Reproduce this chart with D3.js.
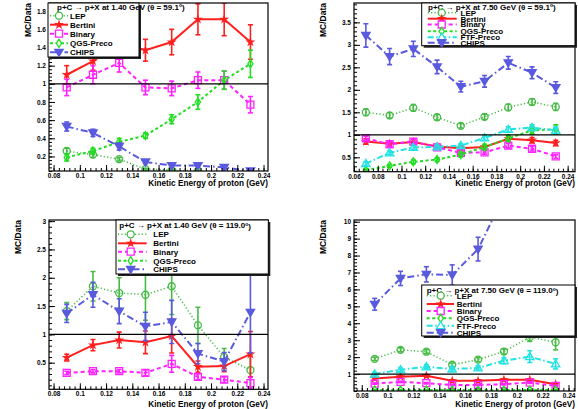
<!DOCTYPE html>
<html><head><meta charset="utf-8">
<script src="https://cdn.jsdelivr.net/npm/d3@7/dist/d3.min.js"></script>
<style>
body{margin:0;background:#fff}
svg{display:block}
text{font-family:"Liberation Sans",Arial,Helvetica,sans-serif;font-weight:bold;fill:#000}
</style>
</head><body>
<svg id="c" width="578" height="409"></svg>
<script>
// ---------- data ----------
const xLow  = [0.09,0.11,0.13,0.15,0.17,0.19,0.21,0.23];
const xHigh = [0.07,0.09,0.11,0.13,0.15,0.17,0.19,0.21,0.23];

const xTicksLow  = [0.08,0.10,0.12,0.14,0.16,0.18,0.20,0.22,0.24];
const xTicksHigh = [0.06,0.08,0.10,0.12,0.14,0.16,0.18,0.20,0.22,0.24];
const yTicks1 = [0.2,0.4,0.6,0.8,1.0,1.2,1.4,1.6,1.8];
const yTicks2 = [0.5,1.0,1.5,2.0,2.5,3.0,3.5];
const yTicks3 = [0.5,1.0,1.5,2.0,2.5,3.0];
const yTicks4 = [1,2,3,4,5,6,7,8,9,10];

// panel 1 : 1.40 GeV, 59.1 deg
const p1LEP      = [0.26,0.22,0.17,0.06,0.05,0.04,null,null];
const p1LEPErr   = [0.03,0.03,0.02,0.01,0.01,0.01,0,0];
const p1Bertini  = [1.10,1.25,1.45,1.37,1.46,1.71,1.71,1.46];
const p1BertErr  = [0.10,0.10,0.12,0.12,0.14,0.17,0.18,0.19];
const p1Binary   = [0.96,1.10,1.23,0.96,0.95,1.04,1.04,0.77];
const p1BinErr   = [0.09,0.10,0.10,0.08,0.08,0.09,0.10,0.09];
const p1QGS      = [0.19,0.26,0.36,0.43,0.61,0.80,1.04,1.22];
const p1QGSErr   = [0.04,0.03,0.04,0.03,0.05,0.08,0.10,0.15];
const p1CHIPS    = [0.53,0.46,0.31,0.14,0.10,0.10,0.08,0.04];
const p1CHIPSErr = [0.05,0.04,0.04,0.02,0.02,0.02,0.02,0.01];

// panel 2 : 7.50 GeV, 59.1 deg
const p2LEP      = [1.50,1.43,1.60,1.39,1.20,1.40,1.61,1.73,1.62];
const p2LEPErr   = [0.07,0.06,0.07,0.06,0.05,0.06,0.07,0.07,0.08];
const p2Bertini  = [0.85,0.80,0.84,0.74,0.70,0.73,0.91,0.88,0.82];
const p2BertErr  = [0.06,0.06,0.06,0.05,0.05,0.05,0.06,0.06,0.06];
const p2Binary   = [0.92,0.79,0.85,0.72,0.60,0.61,0.76,0.69,0.52];
const p2BinErr   = [0.05,0.05,0.05,0.04,0.04,0.04,0.05,0.05,0.04];
const p2QGS      = [0.21,0.31,0.40,0.45,0.56,0.73,0.92,1.10,1.12];
const p2QGSErr   = [0.03,0.03,0.04,0.04,0.05,0.06,0.07,0.08,0.10];
const p2FTF      = [0.36,0.60,0.72,0.73,0.76,0.93,1.12,1.16,1.10];
const p2FTFErr   = [0.04,0.04,0.04,0.04,0.04,0.05,0.06,0.06,0.07];
const p2CHIPS    = [3.21,2.74,2.91,2.51,2.07,2.19,2.60,2.38,2.05];
const p2CHIPSErr = [0.26,0.18,0.17,0.15,0.12,0.13,0.14,0.13,0.13];

// panel 3 : 1.40 GeV, 119.0 deg
const p3LEP      = [1.41,1.85,1.73,1.70,1.85,1.16,0.60,0.37];
const p3LEPErr   = [0.15,0.26,0.27,0.45,0.50,0.32,0.15,0.30];
const p3Bertini  = [0.59,0.81,0.90,0.86,0.97,0.43,0.44,0.65];
const p3BertErr  = [0.06,0.10,0.14,0.20,0.30,0.10,0.10,0.40];
const p3Binary   = [0.32,0.35,0.35,0.32,0.48,0.25,0.20,0.14];
const p3BinErr   = [0.03,0.03,0.03,0.05,0.15,0.05,0.05,0.10];
const p3QGS      = [];
const p3QGSErr   = [];
const p3CHIPS    = [1.37,1.70,1.41,1.14,1.22,0.66,0.52,1.39];
const p3CHIPSErr = [0.16,0.22,0.22,0.25,0.38,0.18,0.16,0.72];

// panel 4 : 7.50 GeV, 119.0 deg
const p4LEP      = [1.90,2.43,2.32,1.55,1.85,2.33,3.18,2.88];
const p4LEPErr   = [0.10,0.12,0.12,0.10,0.12,0.15,0.25,0.45];
const p4Bertini  = [0.74,0.84,0.90,0.60,0.60,0.66,0.66,0.40];
const p4BertErr  = [0.05,0.05,0.06,0.05,0.05,0.05,0.06,0.05];
const p4Binary   = [0.44,0.54,0.46,0.36,0.36,0.40,0.50,0.30];
const p4BinErr   = [0.04,0.04,0.04,0.04,0.04,0.04,0.05,0.04];
const p4QGS      = [0.06,0.06,0.06,0.06,0.06,0.06,0.06,0.06];
const p4QGSErr   = [0.02,0.02,0.02,0.02,0.02,0.02,0.02,0.02];
const p4FTF      = [1.00,1.26,1.43,1.30,1.36,1.79,2.03,1.60];
const p4FTFErr   = [0.10,0.10,0.12,0.12,0.12,0.18,0.35,0.30];
const p4CHIPS    = [5.12,6.65,6.89,6.85,8.38,11.5,12.5,12.0];
const p4CHIPSErr = [0.35,0.42,0.45,0.60,0.70,1.00,1.00,1.00];

// ---------- styles ----------
const styles = {
  "LEP":       {color:"#46bb46", dash:"1.2,2.2",      width:1.5, marker:"circle",  filled:false},
  "Bertini":   {color:"#ff1f1f", dash:null,           width:2,   marker:"star",    filled:true},
  "Binary":    {color:"#ff22ff", dash:"4,3",          width:2,   marker:"square",  filled:false},
  "QGS-Preco": {color:"#22dd22", dash:"3,2.5",        width:2,   marker:"diamond", filled:false},
  "FTF-Preco": {color:"#22e2e2", dash:"6,2.5,1.5,2.5",width:2,   marker:"triUp",   filled:false},
  "CHIPS":     {color:"#5a5ade", dash:"7,3,1.5,3",    width:2,   marker:"triDown", filled:true}
};

function markerPath(type){
  switch(type){
    case "circle": { const p=d3.path(); p.arc(0,0,3.5,0,2*Math.PI); p.closePath(); return p.toString(); }
    case "square": return "M-3.5,-3.5H3.5V3.5H-3.5Z";
    case "diamond": return "M0,-4L2.6,0L0,4L-2.6,0Z";
    case "triUp": return "M0,-4.2L4.2,3L-4.2,3Z";
    case "triDown": return "M0,4.2L4.2,-3L-4.2,-3Z";
    case "star": return d3.symbol(d3.symbolStar, 11)();
  }
}

// ---------- panels ----------
const panels = [
  { frame:{x0:49,x1:268,y0:3,y1:171}, xDomain:[0.0765,0.2434], yDomain:[0.04,1.89],
    x:xLow, xTicks:xTicksLow, yTicks:yTicks1, yTitleX:31, xTitleY:186,
    series:[["LEP",p1LEP,p1LEPErr],["Bertini",p1Bertini,p1BertErr],["Binary",p1Binary,p1BinErr],["QGS-Preco",p1QGS,p1QGSErr],["CHIPS",p1CHIPS,p1CHIPSErr]],
    header:["1.40","59.1"],
    legend:{box:[48,3,139,57], hx:57, hy:7, ys:[15.7,24.7,33.7,43.3,52.3], lx:[50,68], mx:59, tx:70} },
  { frame:{x0:354,x1:575,y0:3,y1:171.7}, xDomain:[0.06,0.2462], yDomain:[0.18,3.93],
    x:xHigh, xTicks:xTicksHigh, yTicks:yTicks2, yTitleX:326, xTitleY:186,
    series:[["LEP",p2LEP,p2LEPErr],["Bertini",p2Bertini,p2BertErr],["Binary",p2Binary,p2BinErr],["QGS-Preco",p2QGS,p2QGSErr],["FTF-Preco",p2FTF,p2FTFErr],["CHIPS",p2CHIPS,p2CHIPSErr]],
    header:["7.50","59.1"],
    legend:{box:[421.7,3,575,45.7], hx:428, hy:6.7, ys:[12.7,18.7,24.5,31.3,37.3,42.7], lx:[427.7,456.7], mx:441.7, tx:460.5} },
  { frame:{x0:49,x1:268,y0:220,y1:389.3}, xDomain:[0.0765,0.2434], yDomain:[0.03,3.02],
    x:xLow, xTicks:xTicksLow, yTicks:yTicks3, yTitleX:21, xTitleY:406.5,
    series:[["LEP",p3LEP,p3LEPErr],["Bertini",p3Bertini,p3BertErr],["Binary",p3Binary,p3BinErr],["QGS-Preco",p3QGS,p3QGSErr],["CHIPS",p3CHIPS,p3CHIPSErr]],
    header:["1.40","119.0"],
    legend:{box:[116,220,268.3,274], hx:119.3, hy:225.5, ys:[234.3,243.3,251.7,260.7,269.3], lx:[118,146.7], mx:130.7, tx:153.3} },
  { frame:{x0:354,x1:575,y0:220,y1:391}, xDomain:[0.074,0.245], yDomain:[0,10.1],
    x:xLow, xTicks:xTicksLow, yTicks:yTicks4, yTitleX:326, xTitleY:406.8,
    series:[["LEP",p4LEP,p4LEPErr],["Bertini",p4Bertini,p4BertErr],["Binary",p4Binary,p4BinErr],["QGS-Preco",p4QGS,p4QGSErr],["FTF-Preco",p4FTF,p4FTFErr],["CHIPS",p4CHIPS,p4CHIPSErr]],
    header:["7.50","119.0"],
    legend:{box:[421.7,285,575,336], hx:426.7, hy:290.5, ys:[295.7,304,311,318.3,325.7,332.7], lx:[426.7,454], mx:440.7, tx:456.7} }
];

const svg = d3.select("#c");
const fmt = d => String(+d.toFixed(3));

function minorTicks(majors, domain){
  const step = (majors[1]-majors[0])/5;
  const lo = Math.min(...domain), hi = Math.max(...domain);
  const out = [];
  const start = Math.ceil((lo - majors[0]) / step - 1e-9);
  for (let k = start; ; k++){
    const v = majors[0] + k*step;
    if (v > hi + 1e-9) break;
    if (v >= lo - 1e-9) out.push(+v.toFixed(6));
  }
  return out;
}

panels.forEach((p, pi) => {
  const f = p.frame;
  const x = d3.scaleLinear().domain(p.xDomain).range([f.x0, f.x1]);
  const y = d3.scaleLinear().domain(p.yDomain).range([f.y1, f.y0]);
  const g = svg.append("g");
  const cid = "clip"+pi;
  g.append("clipPath").attr("id",cid).append("rect")
    .attr("x",f.x0).attr("y",f.y0).attr("width",f.x1-f.x0).attr("height",f.y1-f.y0);
  const plot = g.append("g").attr("clip-path",`url(#${cid})`);

  p.series.forEach(([name, vals, errs]) => {
    const st = styles[name];
    const pts = vals.map((v,i)=>({x:p.x[i], y:v, e:errs[i]})).filter(d=>d.y!=null);
    if (!pts.length) return;
    const line = d3.line().x(d=>x(d.x)).y(d=>y(d.y));
    plot.append("path").attr("d",line(pts)).attr("fill","none")
      .attr("stroke",st.color).attr("stroke-width",st.width)
      .attr("stroke-dasharray",st.dash);
    const eb = plot.append("g").attr("stroke",st.color).attr("stroke-width",1.6);
    pts.forEach(d=>{
      const cx = x(d.x), yt = y(d.y+d.e), yb = y(d.y-d.e);
      eb.append("line").attr("x1",cx).attr("x2",cx).attr("y1",yt).attr("y2",yb);
      eb.append("line").attr("x1",cx-2.5).attr("x2",cx+2.5).attr("y1",yt).attr("y2",yt);
      eb.append("line").attr("x1",cx-2.5).attr("x2",cx+2.5).attr("y1",yb).attr("y2",yb);
    });
    plot.append("g").selectAll("path").data(pts).join("path")
      .attr("transform",d=>`translate(${x(d.x)},${y(d.y)})`)
      .attr("d",markerPath(st.marker))
      .attr("fill",st.filled?st.color:"none")
      .attr("stroke",st.color).attr("stroke-width",1.3);
  });

  // reference line at 1
  g.append("line").attr("x1",f.x0).attr("x2",f.x1).attr("y1",y(1)).attr("y2",y(1))
    .attr("stroke","#000").attr("stroke-width",1.3);

  // frame
  g.append("rect").attr("x",f.x0).attr("y",f.y0).attr("width",f.x1-f.x0).attr("height",f.y1-f.y0)
    .attr("fill","none").attr("stroke","#000").attr("stroke-width",1.2);

  // axes (ticks inside)
  const xa = g.append("g").attr("transform",`translate(0,${f.y1})`)
    .call(d3.axisBottom(x).tickValues(p.xTicks.filter(v=>v>=p.xDomain[0]&&v<=p.xDomain[1])).tickFormat(fmt).tickSize(-6).tickPadding(2.5));
  const xm = g.append("g").attr("transform",`translate(0,${f.y1})`)
    .call(d3.axisBottom(x).tickValues(minorTicks(p.xTicks,p.xDomain)).tickFormat("").tickSize(-3));
  const ya = g.append("g").attr("transform",`translate(${f.x0},0)`)
    .call(d3.axisLeft(y).tickValues(p.yTicks.filter(v=>v>=p.yDomain[0]&&v<=p.yDomain[1])).tickFormat(fmt).tickSize(-6).tickPadding(3));
  const ym = g.append("g").attr("transform",`translate(${f.x0},0)`)
    .call(d3.axisLeft(y).tickValues(minorTicks(p.yTicks,p.yDomain)).tickFormat("").tickSize(-3));
  [xa,xm,ya,ym].forEach(a=>{
    a.select(".domain").remove();
    a.selectAll("line").attr("stroke","#000").attr("stroke-width",1);
    a.selectAll("text").attr("font-size",6.5).attr("font-family",null);
  });

  // titles
  g.append("text").attr("x",f.x1).attr("y",p.xTitleY).attr("text-anchor","end")
    .attr("font-size",8.2).text("Kinetic Energy of proton (GeV)");
  g.append("text").attr("transform",`translate(${p.yTitleX},${f.y0})rotate(-90)`)
    .attr("text-anchor","end").attr("font-size",8.5).text("MC/Data");

  // legend
  const L = p.legend, b = L.box;
  const lg = g.append("g");
  lg.append("rect").attr("x",b[0]+2).attr("y",b[1]+2).attr("width",b[2]-b[0]).attr("height",b[3]-b[1]).attr("fill","#222");
  lg.append("rect").attr("x",b[0]).attr("y",b[1]).attr("width",b[2]-b[0]).attr("height",b[3]-b[1])
    .attr("fill","#fff").attr("stroke","#000").attr("stroke-width",1);
  const ht = lg.append("text").attr("x",L.hx).attr("y",L.hy).attr("dy","0.35em").attr("font-size",8);
  ht.append("tspan").text(`p+C \u2192 p+X at ${p.header[0]} GeV (\u03b8 = ${p.header[1]}`);
  ht.append("tspan").attr("font-size",5).attr("dy","-0.5em").text("o");
  ht.append("tspan").attr("dy","0.35em").text(")");
  p.series.forEach(([name], i) => {
    const st = styles[name], yy = L.ys[i];
    lg.append("line").attr("x1",L.lx[0]).attr("x2",L.lx[1]).attr("y1",yy).attr("y2",yy)
      .attr("stroke",st.color).attr("stroke-width",st.width).attr("stroke-dasharray",st.dash);
    lg.append("path").attr("transform",`translate(${L.mx},${yy})`).attr("d",markerPath(st.marker))
      .attr("fill",st.filled?st.color:"#fff").attr("stroke",st.color).attr("stroke-width",1.3);
    lg.append("text").attr("x",L.tx).attr("y",yy).attr("dy","0.35em").attr("font-size",8).text(name);
  });
});
</script>
</body></html>
